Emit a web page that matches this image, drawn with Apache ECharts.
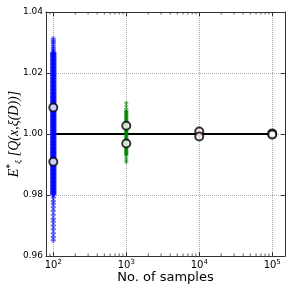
<!DOCTYPE html>
<html><head><meta charset="utf-8">
<script src="https://cdn.jsdelivr.net/npm/echarts@6/dist/echarts.min.js"></script>
<style>html,body{margin:0;padding:0;background:#fff}#c{width:291px;height:291px}</style>
</head><body><div id="c"></div>
<script>
const sampleSizes = [100, 1000, 10000, 100000];
const xTickExponents = [2, 3, 4, 5];
const yTicks = [0.96, 0.98, 1.00, 1.02, 1.04];
const minorTicks = [90, 200, 300, 400, 500, 600, 700, 800, 900, 2000, 3000, 4000, 5000, 6000, 7000, 8000, 9000, 20000, 30000, 40000, 50000, 60000, 70000, 80000, 90000];
const refValue = 1.0;
const blueTailY = [1.0312, 1.0305, 1.0298, 1.0290, 1.0283, 1.0276, 1.0270,
  0.9792, 0.9780, 0.9771, 0.9760, 0.9748, 0.9735, 0.9722, 0.9712, 0.9700, 0.9688, 0.9675, 0.9662, 0.9652];
const blueCoreY = [1.0265, 1.0261, 1.0256, 1.0252, 1.0247, 1.0243, 1.0238, 1.0234, 1.0229, 1.0225, 1.0220, 1.0216, 1.0211, 1.0207, 1.0202, 1.0198, 1.0193, 1.0189, 1.0184, 1.0180, 1.0175, 1.0171, 1.0166, 1.0162, 1.0157, 1.0153, 1.0148, 1.0144, 1.0139, 1.0135, 1.0130, 1.0126, 1.0121, 1.0117, 1.0112, 1.0108, 1.0103, 1.0099, 1.0094, 1.0090, 1.0085, 1.0081, 1.0076, 1.0072, 1.0067, 1.0063, 1.0058, 1.0054, 1.0049, 1.0045, 1.0040, 1.0036, 1.0031, 1.0027, 1.0022, 1.0018, 1.0013, 1.0009, 1.0004, 1.0000, 0.9995, 0.9991, 0.9986, 0.9982, 0.9977, 0.9973, 0.9968, 0.9964, 0.9959, 0.9955, 0.9950, 0.9946, 0.9941, 0.9937, 0.9932, 0.9928, 0.9923, 0.9919, 0.9914, 0.9910, 0.9905, 0.9901, 0.9896, 0.9892, 0.9887, 0.9883, 0.9878, 0.9874, 0.9869, 0.9865, 0.9860, 0.9856, 0.9851, 0.9847, 0.9842, 0.9838, 0.9833, 0.9829, 0.9824, 0.9820, 0.9815, 0.9811, 0.9806, 0.9802];
const greenTailY = [1.0102, 1.0092, 1.0083, 0.9922, 0.9915, 0.9908];
const greenCoreY = [1.0075, 1.0071, 1.0067, 1.0063, 1.0059, 1.0055, 1.0051, 1.0047, 1.0043, 1.0039, 1.0035, 1.0031, 1.0027, 1.0023, 1.0019, 1.0015, 1.0011, 1.0007, 1.0003, 0.9999, 0.9995, 0.9991, 0.9987, 0.9983, 0.9979, 0.9975, 0.9971, 0.9967, 0.9963, 0.9959, 0.9955, 0.9951, 0.9947, 0.9943, 0.9939, 0.9935, 0.9931];
const redY = [1.0016, 1.0010, 1.0004, 0.9998, 0.9992, 0.9986];
const cyanY = [1.0004, 1.0001, 0.9998];
const upperMark = [1.0087, 1.0027, 1.0008, 1.0002];
const lowerMark = [0.9909, 0.9969, 0.9992, 0.9998];

const plusPath = 'path://M3,0H7V3H10V7H7V10H3V7H0V3H3Z';
const xMin = Math.pow(10, 1.9), xMax = Math.pow(10, 5.175);
function pts(x, arr) { return arr.map(v => [x, v]); }

const chart = echarts.init(document.getElementById('c'), null, {renderer: 'canvas'});
const baseX = {
  type: 'log', logBase: 10, min: xMin, max: xMax,
  axisLine: {show: true, lineStyle: {color: '#333', width: 1}},
  axisTick: {show: true, inside: true, length: 4, lineStyle: {color: '#333'}},
};
const baseY = {
  type: 'value', min: 0.96, max: 1.04, interval: 0.02,
  axisLine: {show: true, lineStyle: {color: '#333', width: 1}},
  axisTick: {show: true, inside: true, length: 4, lineStyle: {color: '#333'}},
};
chart.setOption({
  animation: false,
  grid: {left: 46, right: 6, top: 12, bottom: 35, outerBoundsMode: 'none', containLabel: false},
  xAxis: [
    Object.assign({}, baseX, {
      position: 'bottom',
      name: 'No. of samples', nameLocation: 'middle', nameGap: 15, nameMoveOverlap: false,
      nameTextStyle: {fontFamily: 'DejaVu Sans', fontSize: 13, color: '#000'},
      axisLabel: {
        showMinLabel: false, showMaxLabel: false, margin: 3,
        formatter: v => {
          const e = Math.round(Math.log10(v));
          return xTickExponents.indexOf(e) >= 0 && Math.abs(Math.log10(v) - e) < 1e-6 ? '10{s|' + e + '}' : '';
        },
        fontFamily: 'DejaVu Sans', fontSize: 10, color: '#000',
        rich: {s: {fontSize: 7, fontFamily: 'DejaVu Sans', color: '#000', verticalAlign: 'top', padding: [0, 0, 6, 0]}}
      },
      splitLine: {show: true, lineStyle: {type: 'dotted', color: '#aaa', width: 1}}
    }),
    Object.assign({}, baseX, {position: 'top', axisLabel: {show: false}, splitLine: {show: false}})
  ],
  yAxis: [
    Object.assign({}, baseY, {
      position: 'left',
      name: '{E|E}{sup|*}{sub|ξ}{t| [Q(x,ξ(D))]}',
      nameLocation: 'middle', nameGap: 23, nameRotate: 90, nameMoveOverlap: false,
      nameTextStyle: {
        color: '#000',
        rich: {
          E: {fontFamily: 'Liberation Serif', fontStyle: 'italic', fontSize: 14, color: '#000', lineHeight: 18},
          sup: {fontFamily: 'Liberation Serif', fontSize: 10, color: '#000', verticalAlign: 'top', lineHeight: 10},
          sub: {fontFamily: 'Liberation Serif', fontStyle: 'italic', fontSize: 9, color: '#000', verticalAlign: 'bottom', lineHeight: 10},
          t: {fontFamily: 'Liberation Serif', fontStyle: 'italic', fontSize: 14, color: '#000', lineHeight: 18}
        }
      },
      axisLabel: {fontFamily: 'DejaVu Sans', fontSize: 9, color: '#000', margin: 3, formatter: v => v.toFixed(2)},
      splitLine: {show: true, lineStyle: {type: 'dotted', color: '#aaa', width: 1}}
    }),
    Object.assign({}, baseY, {position: 'right', axisLabel: {show: false}, splitLine: {show: false}})
  ],
  series: [
    {type: 'line', data: [[sampleSizes[0], refValue], [sampleSizes[3], refValue]], symbol: 'none',
      lineStyle: {color: '#000', width: 2}, z: 2},
    {type: 'scatter', data: pts(sampleSizes[0], blueTailY), symbol: plusPath, symbolSize: 5,
      itemStyle: {color: '#0000ff', opacity: 0.6}, z: 3},
    {type: 'scatter', data: pts(sampleSizes[0], blueCoreY), symbol: plusPath, symbolSize: 6,
      itemStyle: {color: '#0000ff'}, z: 3},
    {type: 'scatter', data: pts(sampleSizes[1], greenTailY), symbol: plusPath, symbolSize: 4,
      itemStyle: {color: '#008000', opacity: 0.6}, z: 3},
    {type: 'scatter', data: pts(sampleSizes[1], greenCoreY), symbol: plusPath, symbolSize: 4,
      itemStyle: {color: '#008000'}, z: 3},
    {type: 'scatter', data: pts(sampleSizes[2], redY), symbol: plusPath, symbolSize: 3,
      itemStyle: {color: '#ff0000', opacity: 0.75}, z: 3},
    {type: 'scatter', data: pts(sampleSizes[3], cyanY), symbol: plusPath, symbolSize: 3,
      itemStyle: {color: '#00bfbf', opacity: 0.75}, z: 3},
    {type: 'scatter', data: sampleSizes.map((x, i) => [x, upperMark[i]]).concat(sampleSizes.map((x, i) => [x, lowerMark[i]])),
      symbol: 'circle', symbolSize: 8, itemStyle: {color: '#fff', borderColor: '#000', borderWidth: 2}, z: 5},
    {type: 'scatter', data: minorTicks.map(x => [x, yTicks[0]]), symbol: 'rect', symbolSize: [1, 2.5], symbolOffset: [0, -1.25],
      itemStyle: {color: '#333'}, clip: false, z: 6, silent: true},
    {type: 'scatter', data: minorTicks.map(x => [x, yTicks[4]]), symbol: 'rect', symbolSize: [1, 2.5], symbolOffset: [0, 1.25],
      itemStyle: {color: '#333'}, clip: false, z: 6, silent: true}
  ]
});
</script></body></html>
